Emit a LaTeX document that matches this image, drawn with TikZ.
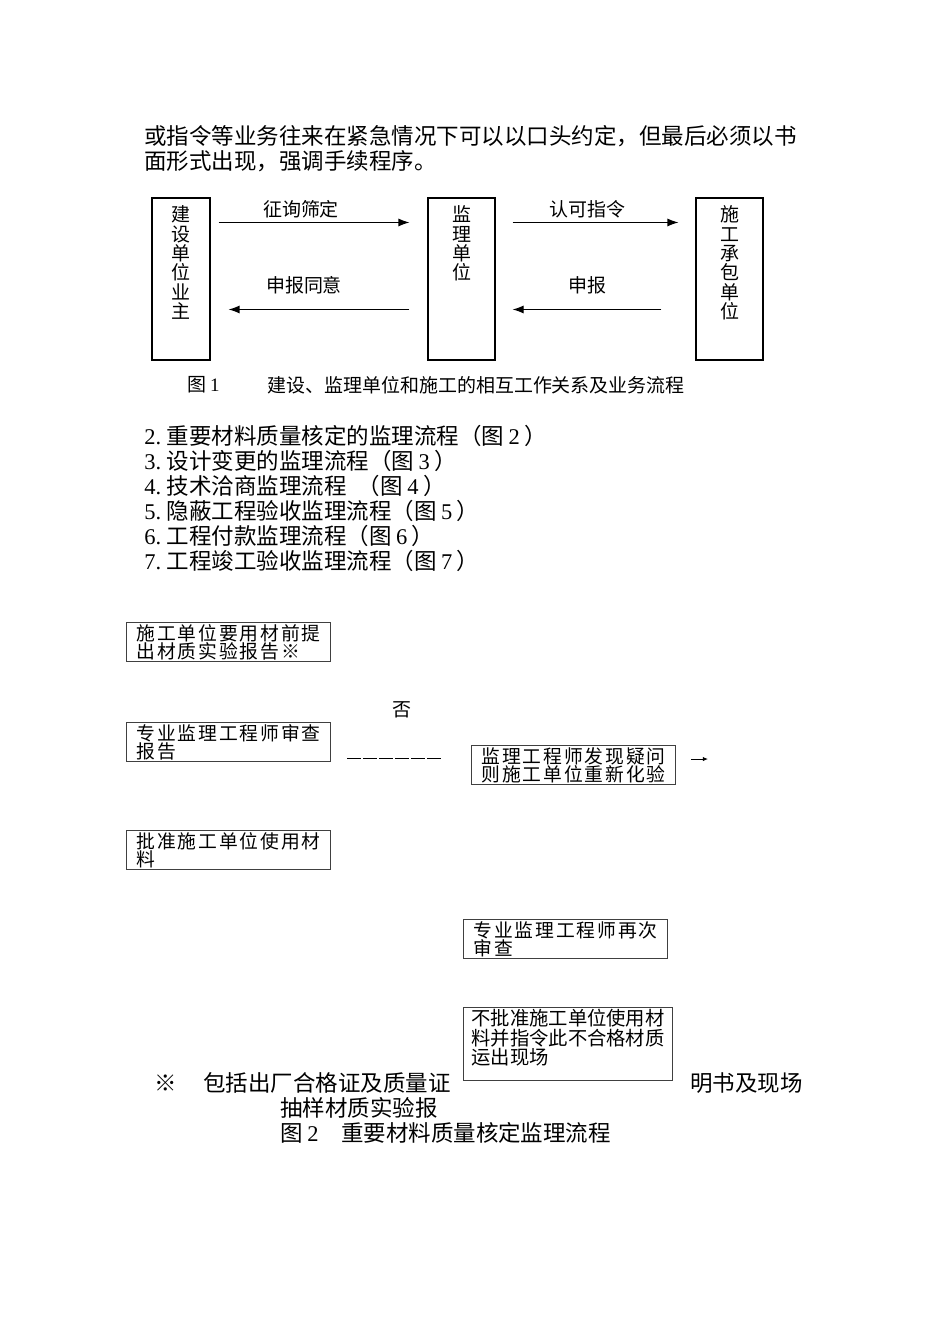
\documentclass[tikz,border=0pt]{standalone}
\usepackage{fontspec}
\setmainfont{Noto Sans CJK SC}
\newfontfamily\latn{Liberation Serif}
\newfontfamily\cjkwide[LetterSpace=10]{Noto Sans CJK SC}
\usetikzlibrary{arrows.meta,positioning,calc}

\begin{document}
\begin{tikzpicture}[
  x=0.02cm, y=-0.02cm,
  bodytext/.style={inner sep=0pt, align=left, font=\fontsize{12.8}{14.2}\selectfont},
  small/.style={inner sep=0pt, font=\fontsize{10.8}{11}\selectfont},
  party/.style={draw, line width=0.6pt, minimum width=1.34cm, minimum height=3.24cm},
  vtext/.style={small, align=center},
  flow/.style={-{Latex[length=0.22cm, width=0.16cm]}, line width=0.6pt},
  stepbox/.style={draw=black!75, line width=0.6pt, anchor=north west, minimum width=4.08cm,
    minimum height=0.78cm, align=left, inner xsep=0.16cm, inner ysep=0pt,
    font=\cjkwide\fontsize{10.7}{10.2}\selectfont},
  dashrule/.style={line width=0.5pt, dash pattern=on 7.8pt off 1.3pt},
]
\fill[white] (0,0) rectangle (950,1344);
\useasboundingbox (0,0) rectangle (950,1344);

% intro paragraph
\node[bodytext, anchor=west] (intro) at (144,148.5) {或指令等业务往来在紧急情况下可以以口头约定，但最后必须以书\\面形式出现，强调手续程序。};

% Figure 1: the three parties
\node[party, minimum width=1.16cm] (owner) at (181,279) {};
\node[party] (super) at (461.5,279) {};
\node[party] (contractor) at (729.5,279) {};
\node[vtext, below=0.16cm of owner.north] {建\\设\\单\\位\\业\\主};
\node[vtext, below=0.16cm of super.north] {监\\理\\单\\位};
\node[vtext, below=0.16cm of contractor.north] {施\\工\\承\\包\\单\\位};

\draw[flow] ($(owner.north east)+(8,25)$) -- node[small, above=2pt, xshift=-0.26cm] {征询筛定} ($(super.north west)+(-18,25)$);
\draw[flow] ($(super.north east)+(17,25)$) -- node[small, above=2pt, xshift=-0.16cm] {认可指令} ($(contractor.north west)+(-17,25)$);
\draw[flow] ($(super.north west)+(-18,112)$) -- node[small, above=0.3cm, xshift=-0.3cm] {申报同意} ($(owner.north east)+(18,112)$);
\draw[flow] ($(contractor.north west)+(-34,112)$) -- node[small, above=0.3cm] {申报} ($(super.north east)+(17,112)$);

\node[small, anchor=west] (cap1) at (187,385) {图\hspace{0.2em}{\latn 1}};
\node[small, anchor=west] at (267,385) {建设、监理单位和施工的相互工作关系及业务流程};

% list of flows
\node[bodytext, anchor=west] (flows) at (144,498.5) {%
  \makebox[1em][l]{\latn 2.}重要材料质量核定的监理流程（图\hspace{0.2em}{\latn 2}\hspace{0.2em}）\\
  \makebox[1em][l]{\latn 3.}设计变更的监理流程（图\hspace{0.2em}{\latn 3}\hspace{0.2em}）\\
  \makebox[1em][l]{\latn 4.}技术洽商监理流程\hspace{0.5em}（图\hspace{0.2em}{\latn 4}\hspace{0.2em}）\\
  \makebox[1em][l]{\latn 5.}隐蔽工程验收监理流程（图\hspace{0.2em}{\latn 5}\hspace{0.2em}）\\
  \makebox[1em][l]{\latn 6.}工程付款监理流程（图\hspace{0.2em}{\latn 6}\hspace{0.2em}）\\
  \makebox[1em][l]{\latn 7.}工程竣工验收监理流程（图\hspace{0.2em}{\latn 7}\hspace{0.2em}）};

% Figure 2: material check
\node[stepbox] (report) at (126,622) {施工单位要用材前提\\出材质实验报告※};
\node[stepbox] (review) at (126,722) {专业监理工程师审查\\报告};
\node[stepbox] (retest) at (471,745) {监理工程师发现疑问\\则施工单位重新化验};
\node[stepbox] (approve) at (126,830) {批准施工单位使用材\\料};
\node[stepbox] (recheck) at (463,919) {专业监理工程师再次\\审查};
\node[stepbox, minimum width=4.18cm, minimum height=1.46cm, inner xsep=0.1cm,
  font=\fontsize{11}{11.2}\selectfont] (reject) at (463,1007) {不批准施工单位使用材\\料并指令此不合格材质\\运出现场\\[-3.2pt]\mbox{}};

\node[small] (no) at (402,710) {否};
\draw[dashrule] ($(review.south east)+(16,-4)$) -- ($(review.south east)+(110,-4)$);
\draw[-{Latex[length=3pt, width=2.5pt]}, line width=0.5pt] ($(retest.east)+(15,-6)$) -- ($(retest.east)+(32,-6)$);

% footnote and caption
\node[bodytext] at (166,1083) {※};
\node[bodytext, anchor=west] at (203,1083) {包括出厂合格证及质量证};
\node[bodytext, anchor=west] at (690,1083) {明书及现场};
\node[bodytext, anchor=west] at (280,1108) {抽样材质实验报};
\node[bodytext, anchor=west] (cap2) at (280,1133) {图\hspace{0.2em}{\latn 2}\hspace{1em}重要材料质量核定监理流程};

\end{tikzpicture}
\end{document}
